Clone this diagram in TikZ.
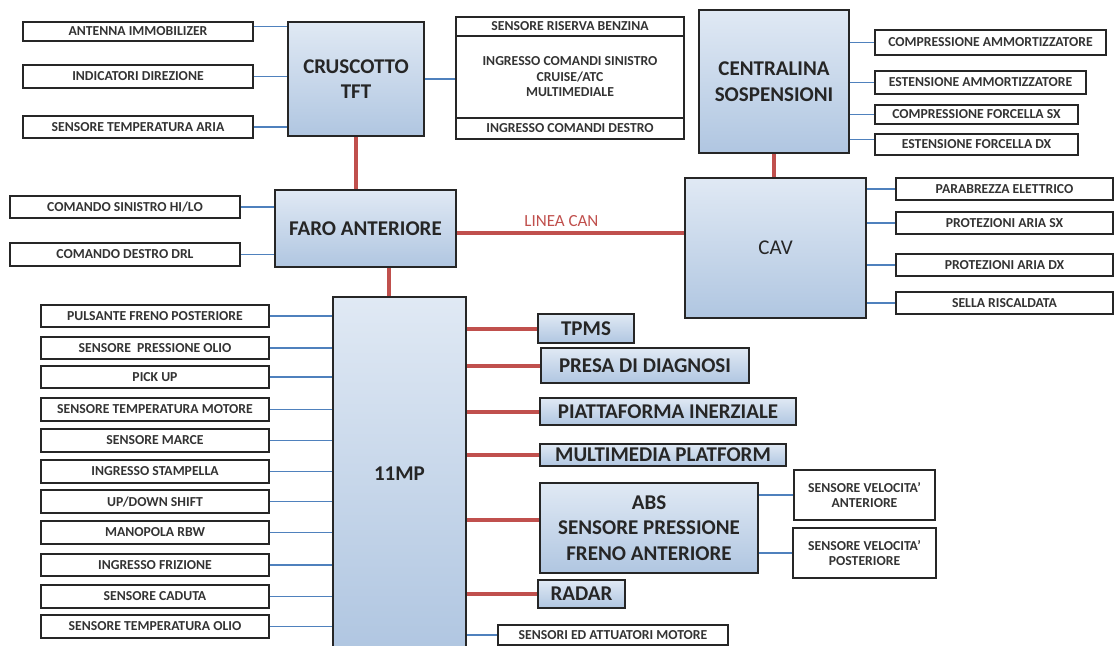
\documentclass[tikz,border=0pt]{standalone}
\usepackage{fontspec}
\setmainfont{Carlito}
\usepackage{tikz}
\usetikzlibrary{calc}
\definecolor{canred}{HTML}{C0504D}
\definecolor{wireblue}{HTML}{4F81BD}
\definecolor{blktop}{HTML}{E0E9F4}
\definecolor{blkbot}{HTML}{B0C6E1}
\definecolor{txtgray}{HTML}{333333}
\newcommand{\grande}{\fontsize{21}{25.5}\selectfont}
\newcommand{\piccolo}{\fontsize{13.7}{15.5}\selectfont}

\begin{document}
\begin{tikzpicture}[x=1pt,y=-1pt,
  taglia/.style 2 args={minimum width=#1pt,minimum height=#2pt},
  blocco/.style={draw=black!85,line width=2pt,top color=blktop,bottom color=blkbot,
    anchor=north west,inner sep=0pt,align=center,font=\grande\bfseries,text=black!85},
  voce/.style={draw=black!85,line width=2pt,fill=white,anchor=north west,
    inner sep=0pt,align=center,font=\piccolo\bfseries,text=txtgray},
  bus/.style={canred,line width=4pt},
  filo/.style={wireblue,line width=1.8pt}]
  \useasboundingbox (0,0) rectangle (1115,645);
  \clip (0,0) rectangle (1115,645);

  % centraline
  \node[blocco,taglia={136}{114}] (crus) at (287,21) {CRUSCOTTO\\TFT};
  \node[blocco,taglia={150}{143}] (cent) at (698,9) {CENTRALINA\\SOSPENSIONI};
  \node[blocco,taglia={181}{77}] (faro) at (274,189) {FARO ANTERIORE};
  \node[blocco,taglia={181}{140},font=\grande] (cav) at (684,177) {CAV};
  \node[blocco,taglia={133}{354}] (mp) at (332,296) {11MP};
  \node[blocco,taglia={96}{29}] (tpms) at (537,313) {TPMS};
  \node[blocco,taglia={208}{35}] (diag) at (540,347) {PRESA DI DIAGNOSI};
  \node[blocco,taglia={256}{27}] (piat) at (539,397) {PIATTAFORMA INERZIALE};
  \node[blocco,taglia={246}{22}] (mult) at (539,443) {MULTIMEDIA PLATFORM};
  \node[blocco,taglia={218}{90}] (abs) at (539,482) {ABS\\SENSORE PRESSIONE\\FRENO ANTERIORE};
  \node[blocco,taglia={87}{28}] (radar) at (537,579) {RADAR};

  % ingressi cruscotto e faro
  \node[voce,taglia={230}{19}] (ant) at (22,21) {ANTENNA IMMOBILIZER};
  \node[voce,taglia={230}{23}] (ind) at (22,64) {INDICATORI DIREZIONE};
  \node[voce,taglia={230}{22}] (tar) at (22,115) {SENSORE TEMPERATURA ARIA};
  \node[voce,taglia={230}{22}] (csx) at (9,195) {COMANDO SINISTRO HI/LO};
  \node[voce,taglia={230}{23}] (cdx) at (9,242) {COMANDO DESTRO DRL};
  \node[voce,taglia={228}{19}] (rbz) at (455,16) {SENSORE RISERVA BENZINA};
  \node[voce,taglia={228}{82}] (isx) at (455,35) {INGRESSO COMANDI SINISTRO\\CRUISE/ATC\\MULTIMEDIALE};
  \node[voce,taglia={228}{21}] (idx) at (455,117) {INGRESSO COMANDI DESTRO};

  % sospensioni e CAV
  \node[voce,taglia={231}{25}] (cam) at (874,29) {COMPRESSIONE AMMORTIZZATORE};
  \node[voce,taglia={211}{23}] (eam) at (874,70) {ESTENSIONE AMMORTIZZATORE};
  \node[voce,taglia={203}{19}] (cfs) at (874,104) {COMPRESSIONE FORCELLA SX};
  \node[voce,taglia={203}{21}] (efd) at (874,133) {ESTENSIONE FORCELLA DX};
  \node[voce,taglia={217}{22}] (pel) at (895,177) {PARABREZZA ELETTRICO};
  \node[voce,taglia={217}{22}] (psx) at (895,211) {PROTEZIONI ARIA SX};
  \node[voce,taglia={217}{22}] (pdx) at (895,253) {PROTEZIONI ARIA DX};
  \node[voce,taglia={217}{22}] (sel) at (895,291) {SELLA RISCALDATA};

  % ingressi 11MP
  \node[voce,taglia={228}{22}] (pfp) at (40,304) {PULSANTE FRENO POSTERIORE};
  \node[voce,taglia={228}{22}] (spo) at (40,336) {SENSORE\ \ PRESSIONE OLIO};
  \node[voce,taglia={228}{22}] (pku) at (40,365) {PICK UP};
  \node[voce,taglia={228}{23}] (stm) at (40,397) {SENSORE TEMPERATURA MOTORE};
  \node[voce,taglia={228}{23}] (smr) at (40,428) {SENSORE MARCE};
  \node[voce,taglia={228}{23}] (ist) at (40,459) {INGRESSO STAMPELLA};
  \node[voce,taglia={228}{23}] (uds) at (40,489) {UP/DOWN SHIFT};
  \node[voce,taglia={228}{23}] (rbw) at (40,520) {MANOPOLA RBW};
  \node[voce,taglia={228}{22}] (ifr) at (40,553) {INGRESSO FRIZIONE};
  \node[voce,taglia={228}{23}] (scd) at (40,584) {SENSORE CADUTA};
  \node[voce,taglia={228}{23}] (sto) at (40,614) {SENSORE TEMPERATURA OLIO};
  \node[voce,taglia={141}{50}] (sva) at (793,469) {SENSORE VELOCITA'\\ANTERIORE};
  \node[voce,taglia={143}{50}] (svp) at (792,527) {SENSORE VELOCITA'\\POSTERIORE};
  \node[voce,taglia={230}{20}] (sam) at (497,624) {SENSORI ED ATTUATORI MOTORE};

  % linea CAN
  \draw[bus] (crus.south) -- (crus.south |- faro.north);
  \draw[bus] ([xshift=23pt]faro.south) -- ([xshift=23pt]faro.south |- mp.north);
  \draw[bus] ([yshift=-4pt]faro.east) -- ([yshift=-4pt]faro.east -| cav.west)
    node[pos=0.46,above=1pt,text=canred,font=\fontsize{17}{20}\selectfont]{LINEA CAN};
  \draw[bus] (cent.south) -- (cent.south |- cav.north);
  \draw[bus] (tpms.west) -- (tpms.west -| mp.east);
  \draw[bus] (diag.west) -- (diag.west -| mp.east);
  \draw[bus] (piat.west) -- (piat.west -| mp.east);
  \draw[bus] (mult.west) -- (mult.west -| mp.east);
  \draw[bus] ([yshift=8pt]abs.west) -- ([yshift=8pt]abs.west -| mp.east);
  \draw[bus] (radar.west) -- (radar.west -| mp.east);

  % fili
  \draw[filo] ([yshift=5pt]ant.east) -- ([yshift=5pt]ant.east -| crus.west);
  \draw[filo] (ind.east) -- (ind.east -| crus.west);
  \draw[filo] (tar.east) -- (tar.east -| crus.west);
  \draw[filo] (crus.east) -- (crus.east -| isx.west);
  \draw[filo] (csx.east) -- (csx.east -| faro.west);
  \draw[filo] (cdx.east) -- (cdx.east -| faro.west);
  \draw[filo] (cam.west) -- (cam.west -| cent.east);
  \draw[filo] (eam.west) -- (eam.west -| cent.east);
  \draw[filo] (cfs.west) -- (cfs.west -| cent.east);
  \draw[filo] ([yshift=5pt]efd.west) -- ([yshift=5pt]efd.west -| cent.east);
  \draw[filo] (pel.west) -- (pel.west -| cav.east);
  \draw[filo] (psx.west) -- (psx.west -| cav.east);
  \draw[filo] (pdx.west) -- (pdx.west -| cav.east);
  \draw[filo] (sel.west) -- (sel.west -| cav.east);
  \draw[filo] (pfp.east) -- (pfp.east -| mp.west);
  \draw[filo] (spo.east) -- (spo.east -| mp.west);
  \draw[filo] (pku.east) -- (pku.east -| mp.west);
  \draw[filo] (stm.east) -- (stm.east -| mp.west);
  \draw[filo] (smr.east) -- (smr.east -| mp.west);
  \draw[filo] (ist.east) -- (ist.east -| mp.west);
  \draw[filo] (uds.east) -- (uds.east -| mp.west);
  \draw[filo] (rbw.east) -- (rbw.east -| mp.west);
  \draw[filo] (ifr.east) -- (ifr.east -| mp.west);
  \draw[filo] (scd.east) -- (scd.east -| mp.west);
  \draw[filo] (sto.east) -- (sto.east -| mp.west);
  \draw[filo] (sva.west) -- (sva.west -| abs.east);
  \draw[filo] (svp.west) -- (svp.west -| abs.east);
  \draw[filo] (sam.west) -- (sam.west -| mp.east);
\end{tikzpicture}
\end{document}
